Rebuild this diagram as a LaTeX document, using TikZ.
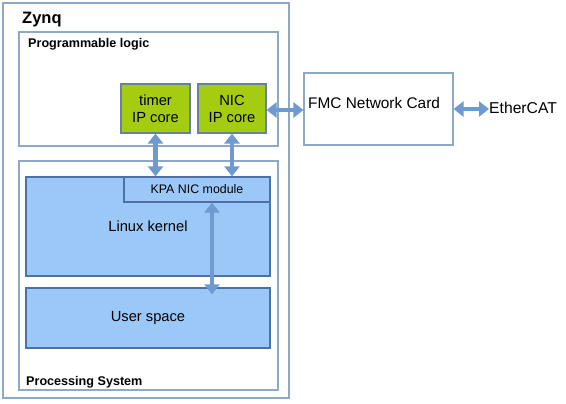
\documentclass[tikz,border=0pt]{standalone}
\usepackage{fontspec}
\setmainfont{Liberation Sans}
\usepackage{tikz}
\usetikzlibrary{arrows.meta}
\definecolor{frameblue}{HTML}{8DA8C8}
\definecolor{coregreen}{HTML}{A4CC10}
\definecolor{coreedge}{HTML}{66829E}
\definecolor{osblue}{HTML}{9CC8F8}
\definecolor{osedge}{HTML}{4C72A4}
\definecolor{busblue}{HTML}{6E9AD0}
\tikzset{frame/.style={draw=frameblue, line width=1.1pt, fill=white, inner sep=0pt, minimum width=#1},
	corebox/.style={draw=coreedge, line width=1.1pt, fill=coregreen, inner sep=0pt, align=center, font=\fontsize{14.7}{17}\selectfont},
	osbox/.style={draw=osedge, line width=1.3pt, fill=osblue, inner sep=0pt, font=\fontsize{14.7}{17}\selectfont},
	bus/.style={busblue, line width=4.5pt, {Triangle[width=15pt,length=10pt]}-{Triangle[width=15pt,length=10pt]}}}

\begin{document}
\begin{tikzpicture}[x=1pt,y=-1pt]
	\useasboundingbox (0,0) rectangle (566,404);
	% chip
	\node [frame=286pt, minimum height=395pt] (zynq) at (146,200.5) {};
	\node [anchor=base west, inner sep=0pt, font=\bfseries\fontsize{16.5}{19}\selectfont] (zynqlbl) at (22,24) {Zynq};
	
	% programmable logic
	\node [frame=259pt, minimum height=114pt] (pl) at (148.5,89) {};
	\node [anchor=base west, inner sep=0pt, font=\bfseries\fontsize{12.6}{15}\selectfont] (pllbl) at (28,48) {Programmable logic};
	\node [corebox, minimum width=69pt, minimum height=49pt] (timer) at (155.5,108.5) {timer\\IP core};
	\node [corebox, minimum width=68pt, minimum height=49pt] (nic) at (232,108.5) {NIC\\IP core};
	
	% processing system
	\node [frame=259pt, minimum height=229pt] (ps) at (148.5,275.5) {};
	\node [anchor=base west, inner sep=0pt, font=\bfseries\fontsize{12.6}{15}\selectfont] (pslbl) at (26,385) {Processing System};
	\node [osbox, minimum width=244pt, minimum height=99pt] (linux) at (148,226.5) {Linux kernel};
	\node [osbox, minimum width=146pt, minimum height=25pt, font=\fontsize{12.4}{15}\selectfont] (kpa) at (197,189.5) {KPA NIC module};
	\node [osbox, minimum width=244pt, minimum height=60pt] (user) at (148,318) {User space};
	
	% network card
	\node [frame=149pt, minimum height=72pt] (fmc) at (378.5,109) {};
	\node [anchor=west, inner sep=0pt, font=\fontsize{15.4}{18}\selectfont] (fmclbl) at (308,103) {FMC Network Card};
	\node [anchor=west, inner sep=0pt, font=\fontsize{15.7}{18}\selectfont] (eth) at (489,107.5) {EtherCAT};
	
	% buses
	\draw [bus] (timer.south) -- (timer.south |- kpa.north);
	\draw [bus] (nic.south) -- (nic.south |- kpa.north);
	\coordinate (usrtop) at ([yshift=-7pt]user.north);
	\draw [bus] ([xshift=15pt]kpa.south) -- ([xshift=15pt]kpa.south |- usrtop);
	\draw [bus] ([yshift=-1.5pt]nic.east) -- ([yshift=-1.5pt]nic.east -| fmc.west);
	\draw [bus] (fmc.east) -- (fmc.east -| eth.west);
\end{tikzpicture}
\end{document}
